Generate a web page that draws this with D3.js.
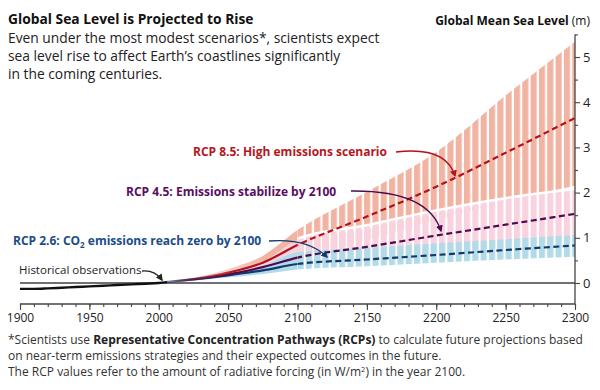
<!DOCTYPE html>
<html><head><meta charset="utf-8">
<script src="https://cdn.jsdelivr.net/npm/d3@7"></script>
<style>
body{margin:0;background:#fff}
svg{display:block}
text{font-family:"Open Sans","Noto Sans",sans-serif}
</style>
</head><body>
<svg id="chart" width="600" height="390"></svg>
<script>
// ---------------- data ----------------
const histYears  = [1900,1910,1920,1930,1940,1950,1960,1970,1980,1990,2000,2006];
const histValues = [-0.13,-0.13,-0.12,-0.105,-0.09,-0.075,-0.06,-0.045,-0.03,-0.015,0.0,0.02];

const projYears = [2005,2025,2050,2075,2100,2150,2200,2250,2300];
const rcp85Mid = [0.02,0.09,0.23,0.45,0.84,1.47,2.13,2.88,3.65];
const rcp85Lo  = [0.02,0.06,0.15,0.28,0.50,0.95,1.40,1.80,2.15];
const rcp85Hi  = [0.03,0.12,0.31,0.60,1.17,2.02,2.90,4.15,5.34];
const rcp45Mid = [0.02,0.08,0.19,0.35,0.56,0.80,1.05,1.29,1.53];
const rcp45Lo  = [0.02,0.06,0.14,0.25,0.36,0.50,0.65,0.80,0.95];
const rcp45Hi  = [0.03,0.10,0.25,0.47,0.95,1.25,1.58,1.85,2.05];
const rcp26Mid = [0.02,0.08,0.17,0.28,0.42,0.52,0.62,0.73,0.83];
const rcp26Lo  = [0.02,0.05,0.12,0.20,0.30,0.37,0.45,0.52,0.58];
const rcp26Hi  = [0.03,0.09,0.21,0.38,0.68,0.78,0.88,0.97,1.06];

const xTickValues = [1900,1950,2000,2050,2100,2150,2200,2250,2300];
const xMinorTicks = d3.range(1900,2301,10);
const yTickValues = [0,1,2,3,4,5];
const yMinorTicks = [0.5,1.5,2.5,3.5,4.5,5.5];

const titleText = "Global Sea Level is Projected to Rise";
const subtitleLines = [
  "Even under the most modest scenarios*, scientists expect",
  "sea level rise to affect Earth\u2019s coastlines significantly",
  "in the coming centuries."
];

// ---------------- setup ----------------
const FONT = "'Open Sans','Noto Sans',sans-serif";
const svg = d3.select("#chart");
const x = d3.scaleLinear().domain([1900,2300]).range([20,575]);
const y = d3.scaleLinear().domain([0,5]).range([283,57]);
const defs = svg.append("defs");

const colors = {
  r85band:"#f2b4a2", r45band:"#f8d3df", r26band:"#b2dbe9",
  r85line:"#b3121b", r45line:"#4e0b52", r26line:"#13386b",
  r85text:"#b5161d", r45text:"#5a0d61", r26text:"#1a4c8a"
};

// clips: before / after 2100
defs.append("clipPath").attr("id","pre").append("rect")
  .attr("x",0).attr("y",0).attr("width",x(2100)).attr("height",390);
defs.append("clipPath").attr("id","post").append("rect")
  .attr("x",x(2100)).attr("y",0).attr("width",600-x(2100)).attr("height",390);

// fade gradients
function fadeGrad(id,color,y0,y1,o0){
  const g = defs.append("linearGradient").attr("id",id)
    .attr("gradientUnits","userSpaceOnUse")
    .attr("x1",x(y0)).attr("x2",x(y1)).attr("y1",0).attr("y2",0);
  g.append("stop").attr("offset",0).attr("stop-color",color).attr("stop-opacity",o0);
  g.append("stop").attr("offset",1).attr("stop-color",color).attr("stop-opacity",1);
}
fadeGrad("g85b",colors.r85band,2010,2075,0);
fadeGrad("g45b",colors.r45band,2010,2070,0);
fadeGrad("g26b",colors.r26band,2008,2060,0);
fadeGrad("g85l",colors.r85line,2010,2055,0);
fadeGrad("g45l",colors.r45line,2008,2045,0.1);
fadeGrad("g26l",colors.r26line,2005,2025,0.5);

// stripe patterns (style)
const stripeStep = x(2106)-x(2100);
function stripes(id,color){
  const p = defs.append("pattern").attr("id",id)
    .attr("patternUnits","userSpaceOnUse")
    .attr("x",x(2100)).attr("y",0)
    .attr("width",stripeStep).attr("height",390);
  p.append("rect").attr("x",0).attr("y",0)
    .attr("width",stripeStep-2.2).attr("height",390).attr("fill",color);
}
stripes("s85",colors.r85band);
stripes("s45",colors.r45band);
stripes("s26",colors.r26band);

// zero line
svg.append("line").attr("x1",x(1900)).attr("x2",x(2300))
  .attr("y1",y(0)).attr("y2",y(0))
  .attr("stroke","#707070").attr("stroke-width",2);

const band = (lo,hi) => d3.area()
  .x((d,i)=>x(projYears[i])).y0((d,i)=>y(lo[i])).y1((d,i)=>y(hi[i]))
  .curve(d3.curveMonotoneX)(projYears);
const lineOf = (vals) => d3.line()
  .x((d,i)=>x(projYears[i])).y((d,i)=>y(vals[i]))
  .curve(d3.curveMonotoneX)(projYears);

// pre-2100 bands
const gPre = svg.append("g").attr("clip-path","url(#pre)");
gPre.append("path").attr("d",band(rcp85Lo,rcp85Hi)).attr("fill","url(#g85b)");
gPre.append("path").attr("d",band(rcp45Lo,rcp45Hi)).attr("fill","url(#g45b)");
gPre.append("path").attr("d",band(rcp26Lo,rcp26Hi)).attr("fill","url(#g26b)");

// post-2100 striped bands
const gPost = svg.append("g").attr("clip-path","url(#post)");
gPost.append("path").attr("d",band(rcp85Lo,rcp85Hi)).attr("fill","url(#s85)");
gPost.append("path").attr("d",lineOf(rcp45Hi)).attr("fill","none")
  .attr("stroke","#fff").attr("stroke-width",5);
gPost.append("path").attr("d",band(rcp45Lo,rcp45Hi)).attr("fill","url(#s45)");
gPost.append("path").attr("d",band(rcp26Lo,rcp26Hi)).attr("fill","url(#s26)");

// historical
svg.append("path")
  .attr("d",d3.line().x((d,i)=>x(histYears[i])).y((d,i)=>y(histValues[i])).curve(d3.curveMonotoneX)(histYears))
  .attr("fill","none").attr("stroke","#111").attr("stroke-width",2.4);

// median lines
[[rcp26Mid,"g26l"],[rcp45Mid,"g45l"],[rcp85Mid,"g85l"]]
.forEach(([vals,grad])=>{
  gPre.append("path").attr("d",lineOf(vals)).attr("fill","none")
    .attr("stroke",`url(#${grad})`).attr("stroke-width",2.2);
});
[[rcp26Mid,colors.r26line],[rcp45Mid,colors.r45line],[rcp85Mid,colors.r85line]]
.forEach(([vals,col])=>{
  gPost.append("path").attr("d",lineOf(vals)).attr("fill","none")
    .attr("stroke",col).attr("stroke-width",2.2).attr("stroke-dasharray","6,3.5");
});

// axes
const axisColor = "#444";
svg.append("line").attr("x1",x(1900)).attr("x2",x(2300)).attr("y1",304).attr("y2",304)
  .attr("stroke",axisColor).attr("stroke-width",1.3);
svg.append("line").attr("x1",x(2300)).attr("x2",x(2300)).attr("y1",y(5.5)).attr("y2",304)
  .attr("stroke",axisColor).attr("stroke-width",1.3);

const xAxisG = svg.append("g").attr("transform","translate(0,304)")
  .call(d3.axisBottom(x).tickValues(xTickValues).tickFormat(d3.format("d")).tickSize(6).tickSizeOuter(0).tickPadding(3));
const xMinorG = svg.append("g").attr("transform","translate(0,304)")
  .call(d3.axisBottom(x).tickValues(xMinorTicks).tickFormat("").tickSize(3).tickSizeOuter(0));
const yAxisG = svg.append("g").attr("transform",`translate(${x(2300)},0)`)
  .call(d3.axisRight(y).tickValues(yTickValues).tickFormat(d3.format("d")).tickSize(5).tickSizeOuter(0).tickPadding(3));
const yMinorG = svg.append("g").attr("transform",`translate(${x(2300)},0)`)
  .call(d3.axisRight(y).tickValues(yMinorTicks).tickFormat("").tickSize(3).tickSizeOuter(0));
[xAxisG,xMinorG,yAxisG,yMinorG].forEach(g=>{
  g.select(".domain").remove();
  g.selectAll("line").attr("stroke",axisColor).attr("stroke-width",1.1);
  g.selectAll("text").attr("fill","#222").style("font-family",FONT);
});
xAxisG.selectAll("text").attr("font-size",12);
yAxisG.selectAll("text").attr("font-size",13);

// arrow markers
function marker(id,color){
  defs.append("marker").attr("id",id).attr("viewBox","0 0 10 10")
    .attr("refX",8).attr("refY",5).attr("markerWidth",7).attr("markerHeight",7)
    .attr("markerUnits","userSpaceOnUse").attr("orient","auto")
    .append("path").attr("d","M0,0 L10,5 L0,10 z").attr("fill",color);
}
marker("m85",colors.r85line); marker("m45",colors.r45line);
marker("m26",colors.r26line); marker("mh","#222");

function arrow(p0,c,p1,col,mk){
  svg.append("path").attr("d",`M${p0[0]},${p0[1]} Q${c[0]},${c[1]} ${p1[0]},${p1[1]}`)
    .attr("fill","none").attr("stroke",col).attr("stroke-width",1.3)
    .attr("marker-end",`url(#${mk})`);
}

// annotations
svg.append("text").attr("x",193).attr("y",156).attr("font-size",12).attr("font-weight","bold")
  .attr("fill",colors.r85text).text("RCP 8.5: High emissions scenario");
arrow([396,152],[446,146],[455,176],colors.r85line,"m85");

svg.append("text").attr("x",126).attr("y",196).attr("font-size",12).attr("font-weight","bold")
  .attr("fill",colors.r45text).text("RCP 4.5: Emissions stabilize by 2100");
arrow([351,191],[428,190],[441,231],colors.r45line,"m45");

const t26 = svg.append("text").attr("x",13).attr("y",245).attr("font-size",12).attr("font-weight","bold")
  .attr("fill",colors.r26text);
t26.append("tspan").text("RCP 2.6: CO");
t26.append("tspan").attr("font-size",8).attr("dy",3).text("2");
t26.append("tspan").attr("dy",-3).text(" emissions reach zero by 2100");
arrow([269,241],[308,238],[327,257],colors.r26line,"m26");

svg.append("text").attr("x",19).attr("y",274).attr("font-size",11.5)
  .attr("fill","#222").text("Historical observations");
arrow([142,271],[155,270],[162,280],"#222","mh");

// titles
svg.append("text").attr("x",8).attr("y",24).attr("font-size",13.8).attr("font-weight","bold")
  .attr("fill","#111").text(titleText);
subtitleLines.forEach((s,i)=>{
  svg.append("text").attr("x",8).attr("y",43+i*18).attr("font-size",13.8)
    .attr("fill","#222").text(s);
});
const yl = svg.append("text").attr("x",590).attr("y",25).attr("text-anchor","end")
  .attr("font-size",12).attr("fill","#111");
yl.append("tspan").attr("font-weight","bold").text("Global Mean Sea Level ");
yl.append("tspan").text("(m)");

// footnote
const f1 = svg.append("text").attr("x",8).attr("y",344).attr("font-size",12).attr("fill","#333");
f1.append("tspan").text("*Scientists use ");
f1.append("tspan").attr("font-weight","bold").attr("fill","#222").text("Representative Concentration Pathways (RCPs)");
f1.append("tspan").text(" to calculate future projections based");
svg.append("text").attr("x",8).attr("y",360).attr("font-size",12).attr("fill","#333")
  .text("on near-term emissions strategies and their expected outcomes in the future.");
const f3 = svg.append("text").attr("x",8).attr("y",376).attr("font-size",12).attr("fill","#333");
f3.append("tspan").text("The RCP values refer to the amount of radiative forcing (in W/m");
f3.append("tspan").attr("font-size",7.5).attr("dy",-4).text("2");
f3.append("tspan").attr("dy",4).text(") in the year 2100.");
</script>
</body></html>
